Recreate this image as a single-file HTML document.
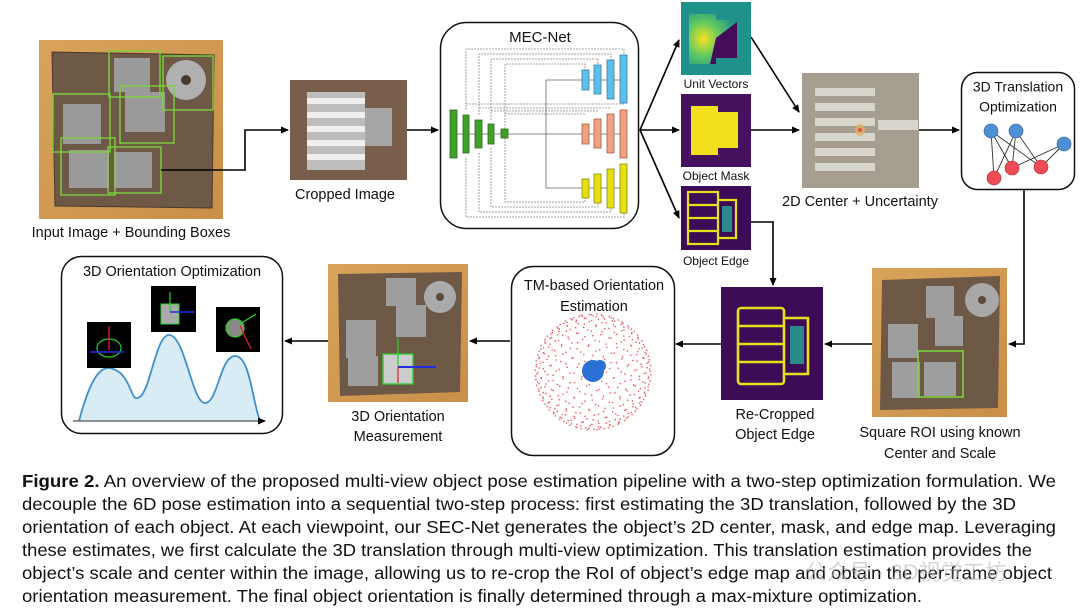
<!DOCTYPE html>
<html><head><meta charset="utf-8"><style>
html,body{margin:0;padding:0;background:#fff;}
body{width:1080px;height:616px;overflow:hidden;position:relative;}
svg{position:absolute;left:0;top:0;}
.t{font-family:"Liberation Sans",sans-serif;fill:#111;}
</style></head><body>
<svg width="1080" height="616" viewBox="0 0 1080 616" xmlns="http://www.w3.org/2000/svg">
<defs>
<marker id="ah" markerWidth="8" markerHeight="8" refX="7" refY="4" orient="auto" markerUnits="userSpaceOnUse"><path d="M0,0.5 L8,4 L0,7.5 z" fill="#000"/></marker>
<radialGradient id="uv" cx="0.3" cy="0.5" r="0.7"><stop offset="0" stop-color="#f5e21f"/><stop offset="0.5" stop-color="#5ec962"/><stop offset="1" stop-color="#21918c"/></radialGradient>
<linearGradient id="box" x1="0" y1="0" x2="1" y2="1"><stop offset="0" stop-color="#d9a35a"/><stop offset="1" stop-color="#c98f48"/></linearGradient>
</defs>

<!-- Input image -->
<rect x="39" y="40" width="184" height="179" fill="url(#box)"/>
<path d="M52 52 L214 55 L212 208 L55 206 Z" fill="#6e5846" stroke="#4a3a2c" stroke-width="1"/>
<g fill="#9a9a9a"><rect x="114" y="58" width="36" height="34"/><rect x="125" y="92" width="40" height="40"/><rect x="63" y="104" width="38" height="40"/><rect x="69" y="150" width="40" height="38"/><rect x="114" y="152" width="38" height="36"/></g>
<circle cx="186" cy="80" r="20" fill="#b0b0b0"/><circle cx="186" cy="80" r="5" fill="#4a3a2c"/>
<g fill="none" stroke="#7bd23b" stroke-width="1.4"><rect x="109" y="51" width="51" height="46"/><rect x="163" y="56" width="50" height="54"/><rect x="120" y="86" width="54" height="57"/><rect x="53" y="94" width="57" height="58"/><rect x="61" y="138" width="54" height="57"/><rect x="108" y="147" width="53" height="46"/></g>
<text class="t" x="131" y="233" font-size="14.5" text-anchor="middle" dominant-baseline="middle">Input Image + Bounding Boxes</text>
<path d="M161 170 H245 V130 H288" fill="none" stroke="#000" stroke-width="1.6" marker-end="url(#ah)"/>

<!-- Cropped image -->
<rect x="290" y="80" width="117" height="100" fill="#7a5e4c"/>
<rect x="307" y="92" width="58" height="78" fill="#bdbdbd"/>
<g fill="#efefef"><rect x="307" y="98" width="58" height="6"/><rect x="307" y="112" width="58" height="6"/><rect x="307" y="126" width="58" height="6"/><rect x="307" y="140" width="58" height="6"/><rect x="307" y="154" width="58" height="6"/></g>
<rect x="365" y="108" width="27" height="38" fill="#a6a6a6"/>
<text class="t" x="345" y="195" font-size="14.5" text-anchor="middle" dominant-baseline="middle">Cropped Image</text>
<path d="M407 130 H438" stroke="#000" stroke-width="1.6" marker-end="url(#ah)"/>

<!-- MEC-Net -->
<rect x="440.5" y="22.5" width="198" height="206" rx="26" fill="#fff" stroke="#111" stroke-width="1.5"/>
<text class="t" x="540" y="38" font-size="15" text-anchor="middle" dominant-baseline="middle">MEC-Net</text>
<g fill="none" stroke="#888" stroke-width="0.8" stroke-dasharray="2,1">
<path d="M466 110 V49 H624 V55"/><path d="M479 115 V54 H611 V60"/><path d="M491 120 V59 H598 V65"/><path d="M505 129 V64 H585 V70"/>
<path d="M466 158 V217 H624 V213"/><path d="M479 153 V212 H611 V208"/><path d="M491 148 V207 H598 V203"/><path d="M505 138 V202 H585 V198"/>
<path d="M466 104 H624 M479 108 H611 M491 111 H598 M505 114 H585"/>
</g>
<path d="M546 134 V80 H582 M546 134 V188 H582 M508 134 H582 M457 134 H627 M589 80 H627 M589 188 H627" fill="none" stroke="#666" stroke-width="0.8"/>
<g stroke="#2d6a1a" stroke-width="0.8" fill="#3fa12a"><rect x="450" y="110" width="7" height="48"/><rect x="463" y="115" width="6" height="38"/><rect x="475" y="120" width="7" height="28"/><rect x="488" y="124" width="6" height="20"/><rect x="501" y="129" width="7" height="9"/></g>
<g stroke="#3a7fa8" stroke-width="0.8" fill="#5bc0ea"><rect x="582" y="70" width="7" height="20"/><rect x="594" y="65" width="7" height="29"/><rect x="607" y="60" width="7" height="39"/><rect x="620" y="55" width="7" height="48"/></g>
<g stroke="#a65e3c" stroke-width="0.8" fill="#eea283"><rect x="582" y="124" width="7" height="20"/><rect x="594" y="119" width="7" height="29"/><rect x="607" y="114" width="7" height="39"/><rect x="620" y="110" width="7" height="48"/></g>
<g stroke="#8a8a10" stroke-width="0.8" fill="#e6e010"><rect x="582" y="179" width="7" height="19"/><rect x="594" y="174" width="7" height="29"/><rect x="607" y="169" width="7" height="39"/><rect x="620" y="164" width="7" height="49"/></g>

<!-- fan out -->
<g stroke="#000" stroke-width="1.6" fill="none">
<path d="M640 130 L679 40" marker-end="url(#ah)"/><path d="M640 130 H679" marker-end="url(#ah)"/><path d="M640 130 L679 218" marker-end="url(#ah)"/>
<path d="M751 37 L799 112" marker-end="url(#ah)"/><path d="M751 130 H799" marker-end="url(#ah)"/>
<path d="M919 130 H959" marker-end="url(#ah)"/>
<path d="M751 222 H773 V285" marker-end="url(#ah)"/>
<path d="M1024 190 V344 H1009" marker-end="url(#ah)"/>
<path d="M872 344 H825" marker-end="url(#ah)"/>
<path d="M721 344 H676" marker-end="url(#ah)"/>
<path d="M510 341 H470" marker-end="url(#ah)"/>
<path d="M328 341 H285" marker-end="url(#ah)"/>
</g>

<!-- Unit vectors -->
<rect x="681" y="2" width="70" height="73" fill="#21918c"/>
<path d="M689 14 H716 V20 H737 V58 H716 V64 H689 Z" fill="url(#uv)"/>
<path d="M716 38 L737 22 V58 H716 V64 H710 Z" fill="#440c5a"/>
<text class="t" x="716" y="85" font-size="12" text-anchor="middle" dominant-baseline="middle">Unit Vectors</text>
<!-- Mask -->
<rect x="681" y="94" width="70" height="73" fill="#45115f"/>
<path d="M691 106 H718 V112 H738 V148 H718 V155 H691 Z" fill="#f2e01c"/>
<text class="t" x="716" y="177" font-size="12" text-anchor="middle" dominant-baseline="middle">Object Mask</text>
<!-- Edge -->
<rect x="681" y="186" width="70" height="64" fill="#3e0b56"/>
<g fill="none" stroke="#e6e21a" stroke-width="2.2"><rect x="688" y="192" width="30" height="52"/><path d="M688 205 H718 M688 218 H718 M688 231 H718 M718 200 H736 V238 H718"/></g>
<rect x="722" y="206" width="10" height="26" fill="#2a8a8a"/>
<text class="t" x="716" y="262" font-size="12" text-anchor="middle" dominant-baseline="middle">Object Edge</text>

<!-- 2D center -->
<rect x="802" y="73" width="117" height="115" fill="#a59e91"/>
<g fill="#d8d5cd"><rect x="815" y="88" width="60" height="8"/><rect x="815" y="103" width="60" height="8"/><rect x="815" y="118" width="60" height="8"/><rect x="815" y="133" width="60" height="8"/><rect x="815" y="148" width="60" height="8"/><rect x="815" y="163" width="60" height="8"/><rect x="878" y="120" width="40" height="10"/></g>
<ellipse cx="860" cy="130" rx="5" ry="6" fill="#e0b060" opacity="0.8"/><circle cx="860" cy="130" r="2" fill="#e05050"/>
<text class="t" x="860" y="202" font-size="14.5" text-anchor="middle" dominant-baseline="middle">2D Center + Uncertainty</text>

<!-- 3D Translation -->
<rect x="961.5" y="72.5" width="113" height="117" rx="16" fill="#fff" stroke="#111" stroke-width="1.5"/>
<text class="t" x="1018" y="88" font-size="14" text-anchor="middle" dominant-baseline="middle">3D Translation</text>
<text class="t" x="1018" y="108" font-size="14" text-anchor="middle" dominant-baseline="middle">Optimization</text>
<g stroke="#333" stroke-width="0.9"><path d="M991 131 L994 178 M991 131 L1012 168 M991 131 L1041 167 M1016 131 L1012 168 M1016 131 L1041 167 M1016 131 L994 178 M1064 144 L1012 168 M1064 144 L1041 167"/></g>
<g fill="#4f8fd3" stroke="#2d5c94" stroke-width="0.6"><circle cx="991" cy="131" r="7"/><circle cx="1016" cy="131" r="7"/><circle cx="1064" cy="144" r="7"/></g>
<g fill="#ef4b55" stroke="#a0303a" stroke-width="0.6"><circle cx="994" cy="178" r="7"/><circle cx="1012" cy="168" r="7"/><circle cx="1041" cy="167" r="7"/></g>

<!-- Square ROI -->
<rect x="872" y="268" width="135" height="149" fill="url(#box)"/>
<path d="M882 280 L1000 276 L998 408 L880 410 Z" fill="#6e5846"/>
<g fill="#9e9e9e"><rect x="926" y="286" width="28" height="32"/><rect x="935" y="316" width="28" height="30"/><rect x="888" y="324" width="30" height="34"/><rect x="892" y="362" width="28" height="36"/><rect x="924" y="362" width="32" height="34"/></g>
<circle cx="982" cy="300" r="17" fill="#a8a8a8"/><circle cx="982" cy="300" r="4" fill="#5a4a3a"/>
<rect x="918" y="351" width="45" height="46" fill="none" stroke="#7bd23b" stroke-width="1.6"/>
<text class="t" x="940" y="433" font-size="14.5" text-anchor="middle" dominant-baseline="middle">Square ROI using known</text>
<text class="t" x="940" y="454" font-size="14.5" text-anchor="middle" dominant-baseline="middle">Center and Scale</text>

<!-- Re-cropped edge -->
<rect x="721" y="287" width="102" height="113" fill="#3e0b56"/>
<g fill="none" stroke="#e6e21a" stroke-width="2.6"><rect x="738" y="308" width="46" height="76" rx="3"/><path d="M738 326 H784 M738 344 H784 M738 362 H784 M784 318 H808 V374 H784"/></g>
<rect x="790" y="326" width="14" height="38" fill="#2a8a8a"/>
<text class="t" x="775" y="415" font-size="14.5" text-anchor="middle" dominant-baseline="middle">Re-Cropped</text>
<text class="t" x="775" y="435" font-size="14.5" text-anchor="middle" dominant-baseline="middle">Object Edge</text>

<!-- TM box -->
<rect x="511.5" y="266.5" width="163" height="189" rx="22" fill="#fff" stroke="#111" stroke-width="1.5"/>
<text class="t" x="594" y="286" font-size="14.5" text-anchor="middle" dominant-baseline="middle">TM-based Orientation</text>
<text class="t" x="594" y="307" font-size="14.5" text-anchor="middle" dominant-baseline="middle">Estimation</text>
<g id="dots" fill="#ef5560"></g>
<circle cx="593" cy="371" r="11" fill="#2a6fd6"/>
<circle cx="600" cy="366" r="6" fill="#2a6fd6"/>

<!-- Measurement -->
<rect x="328" y="264" width="140" height="138" fill="url(#box)"/>
<path d="M338 274 L462 272 L460 392 L340 396 Z" fill="#6e5846"/>
<g fill="#9e9e9e"><rect x="386" y="278" width="30" height="28"/><rect x="396" y="305" width="30" height="32"/><rect x="346" y="320" width="30" height="38"/><rect x="348" y="356" width="30" height="30"/></g>
<circle cx="440" cy="297" r="16" fill="#aaa"/><circle cx="440" cy="297" r="4" fill="#5a4a3a"/>
<rect x="383" y="354" width="30" height="30" fill="#ccc" stroke="#2ad02a" stroke-width="1.3"/>
<path d="M398 367 V338" stroke="#2ad02a" stroke-width="1.2"/><path d="M398 367 H436" stroke="#2030e0" stroke-width="2"/><path d="M398 367 V383" stroke="#e02020" stroke-width="1.2"/>
<text class="t" x="398" y="417" font-size="14.5" text-anchor="middle" dominant-baseline="middle">3D Orientation</text>
<text class="t" x="398" y="437" font-size="14.5" text-anchor="middle" dominant-baseline="middle">Measurement</text>

<!-- 3D Orientation Optimization -->
<rect x="61.5" y="256.5" width="221" height="177" rx="20" fill="#fff" stroke="#111" stroke-width="1.5"/>
<text class="t" x="172" y="272" font-size="14.5" text-anchor="middle" dominant-baseline="middle">3D Orientation Optimization</text>
<path d="M79 421 C95 360 108 365 119 372 C130 380 132 400 137 398 C150 398 155 335 169 335 C185 335 192 403 205 403 C218 403 220 356 235 356 C250 356 252 400 260 421 Z" fill="#d8ecf6"/>
<path d="M79 421 C95 360 108 365 119 372 C130 380 132 400 137 398 C150 398 155 335 169 335 C185 335 192 403 205 403 C218 403 220 356 235 356 C250 356 252 400 260 421" fill="none" stroke="#3f8fcf" stroke-width="1.8"/>
<path d="M73 421 H265" stroke="#555" stroke-width="1.2" marker-end="url(#ah)"/>
<rect x="87" y="322" width="44" height="46" fill="#000"/>
<ellipse cx="109" cy="348" rx="12" ry="9" fill="none" stroke="#2ad02a" stroke-width="1.2"/>
<path d="M109 326 V350" stroke="#e02020" stroke-width="1.3"/><path d="M90 352 H124" stroke="#2030e0" stroke-width="1.5"/>
<rect x="151" y="286" width="45" height="46" fill="#000"/>
<rect x="161" y="304" width="18" height="20" fill="#aaa" stroke="#2ad02a" stroke-width="1"/>
<path d="M170 292 V312" stroke="#2ad02a" stroke-width="1.2"/><path d="M170 312 H195" stroke="#2030e0" stroke-width="1.5"/>
<rect x="216" y="307" width="44" height="45" fill="#000"/>
<circle cx="235" cy="328" r="9" fill="#888" stroke="#2ad02a" stroke-width="1.2"/>
<path d="M240 324 L256 314" stroke="#2ad02a" stroke-width="1.2"/><path d="M240 326 L251 349" stroke="#e02020" stroke-width="1.3"/>

<!-- Caption -->
<g class="t" font-size="17.5">
<text x="22" y="487" textLength="1034" lengthAdjust="spacingAndGlyphs"><tspan font-weight="bold">Figure 2.</tspan>  An overview of the proposed multi-view object pose estimation pipeline with a two-step optimization formulation. We</text>
<text x="22" y="510" textLength="994" lengthAdjust="spacingAndGlyphs">decouple the 6D pose estimation into a sequential two-step process: first estimating the 3D translation, followed by the 3D</text>
<text x="22" y="533" textLength="1034" lengthAdjust="spacingAndGlyphs">orientation of each object. At each viewpoint, our SEC-Net generates the object’s 2D center, mask, and edge map. Leveraging</text>
<text x="22" y="556" textLength="1010" lengthAdjust="spacingAndGlyphs">these estimates, we first calculate the 3D translation through multi-view optimization. This translation estimation provides the</text>
<text x="22" y="579" textLength="1030" lengthAdjust="spacingAndGlyphs">object’s scale and center within the image, allowing us to re-crop the RoI of object’s edge map and obtain the per-frame object</text>
<text x="22" y="602" textLength="900" lengthAdjust="spacingAndGlyphs">orientation measurement. The final object orientation is finally determined through a max-mixture optimization.</text>
</g>
<text x="805" y="580" font-family="'Liberation Sans','Noto Sans CJK SC',sans-serif" font-size="22" fill="#bbb" opacity="0.6">公众号 · 3D视觉工坊</text>
</svg>
<script>
(function(){var g=document.getElementById('dots'),s='',cx=593,cy=372,R=58,n=420;
for(var i=0;i<n;i++){var y=1-2*(i+0.5)/n,r=Math.sqrt(1-y*y),t=i*2.39996;var x=Math.cos(t)*r;
s+='<circle cx="'+(cx+x*R).toFixed(1)+'" cy="'+(cy+y*R).toFixed(1)+'" r="0.8"/>';}
g.innerHTML=s;})();
</script>
</body></html>
